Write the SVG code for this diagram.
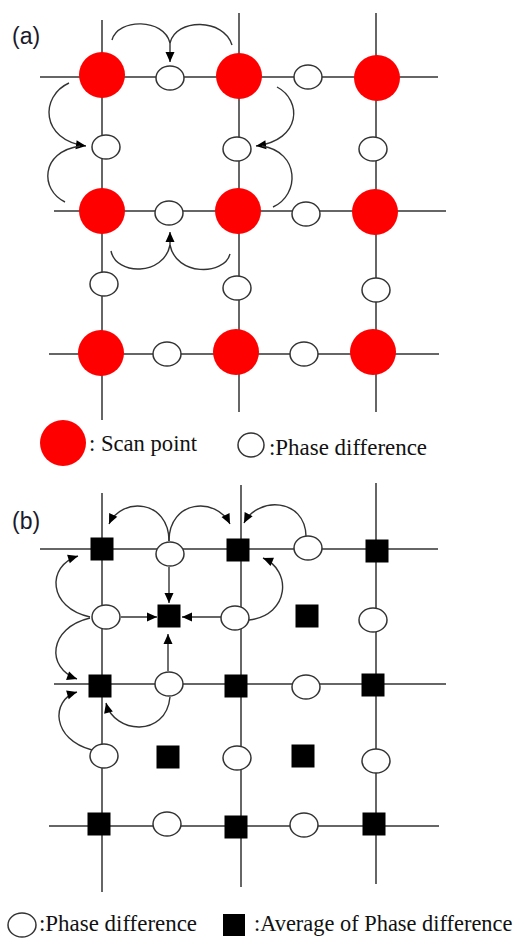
<svg xmlns="http://www.w3.org/2000/svg" width="523" height="938" viewBox="0 0 523 938">
<style>
.g{stroke:#333;stroke-width:1.5;fill:none}
.c{stroke:#333;stroke-width:1.4;fill:none}
.sp{fill:#ff0000}
.pd{fill:#fff;stroke:#333;stroke-width:1.5}
.av{fill:#000}
.lbl{font-family:"Liberation Sans",Arial,sans-serif;font-size:23px;fill:#1a1a2a}
.lg{font-family:"Liberation Serif","Times New Roman",serif;font-size:24px;fill:#111}
.lgs{font-family:"Liberation Serif","Times New Roman",serif;font-size:22.4px;fill:#111}
</style>
<defs>
<marker id="ah" viewBox="0 0 10 10" refX="10" refY="5" markerWidth="11" markerHeight="10" markerUnits="userSpaceOnUse" orient="auto">
<path d="M0,0.5 L10,5 L0,9.5 Z" fill="#000"/>
</marker>
</defs>
<rect width="523" height="938" fill="#fff"/>

<text class="lbl" x="12" y="44">(a)</text>
<g id="grid-a">
<line class="g" x1="102" y1="20" x2="102" y2="420"/>
<line class="g" x1="239" y1="13" x2="239" y2="412"/>
<line class="g" x1="376" y1="13" x2="376" y2="412"/>
<line class="g" x1="40" y1="77" x2="438" y2="77"/>
<line class="g" x1="54" y1="211" x2="446" y2="211"/>
<line class="g" x1="49" y1="354" x2="439" y2="354"/>
</g>
<g id="connectors-a">
<path class="c" d="M112,40 C118,18 164,18 170,43"/>
<path class="c" d="M232,45 C224,18 176,18 170,43"/>
<path class="c" d="M170,43 L170,62" marker-end="url(#ah)"/>
<path class="c" d="M69,83 C40,96 40,140 86,146" marker-end="url(#ah)"/>
<path class="c" d="M65,202 C40,190 40,152 80,146"/>
<path class="c" d="M277,87 C302,100 302,140 256,146" marker-end="url(#ah)"/>
<path class="c" d="M273,207 C300,195 300,152 262,146"/>
<path class="c" d="M111,251 C116,276 164,276 170,245"/>
<path class="c" d="M230,254 C224,276 176,276 170,245"/>
<path class="c" d="M170,245 L170,232" marker-end="url(#ah)"/>
</g>
<g id="scan-points">
<circle id="s11" class="sp" cx="102" cy="75" r="23"/>
<circle id="s12" class="sp" cx="239" cy="76" r="23"/>
<circle id="s13" class="sp" cx="377" cy="78" r="23"/>
<circle id="s21" class="sp" cx="102" cy="211" r="23"/>
<circle id="s22" class="sp" cx="238" cy="211" r="23"/>
<circle id="s23" class="sp" cx="375" cy="212" r="23"/>
<circle id="s31" class="sp" cx="101" cy="353" r="23"/>
<circle id="s32" class="sp" cx="236" cy="352" r="23"/>
<circle id="s33" class="sp" cx="373" cy="352" r="23"/>
</g>
<g id="phase-a">
<ellipse id="pa1" class="pd" cx="170" cy="78" rx="14" ry="12"/>
<ellipse id="pa2" class="pd" cx="308" cy="77" rx="14" ry="12"/>
<ellipse id="pa3" class="pd" cx="169" cy="213" rx="14" ry="12"/>
<ellipse id="pa4" class="pd" cx="306" cy="214" rx="14" ry="12"/>
<ellipse id="pa5" class="pd" cx="167" cy="354" rx="14" ry="12"/>
<ellipse id="pa6" class="pd" cx="304" cy="354" rx="14" ry="12"/>
<ellipse id="pa7" class="pd" cx="106" cy="147" rx="14" ry="12"/>
<ellipse id="pa8" class="pd" cx="237" cy="149" rx="14" ry="12"/>
<ellipse id="pa9" class="pd" cx="373" cy="149" rx="14" ry="12"/>
<ellipse id="pa10" class="pd" cx="104" cy="284" rx="14" ry="12"/>
<ellipse id="pa11" class="pd" cx="237" cy="288" rx="14" ry="12"/>
<ellipse id="pa12" class="pd" cx="376" cy="290" rx="14" ry="12"/>
</g>
<g id="legend-a">
<circle class="sp" cx="63" cy="443" r="23"/>
<text class="lg" x="89" y="451" textLength="108" lengthAdjust="spacingAndGlyphs">: Scan point</text>
<ellipse class="pd" cx="251" cy="445" rx="13" ry="12"/>
<text class="lg" x="269" y="455" textLength="158" lengthAdjust="spacingAndGlyphs">:Phase difference</text>
</g>

<text class="lbl" x="12" y="529">(b)</text>
<g id="grid-b">
<line class="g" x1="102" y1="493" x2="102" y2="892"/>
<line class="g" x1="241" y1="485" x2="241" y2="887"/>
<line class="g" x1="376" y1="483" x2="376" y2="884"/>
<line class="g" x1="40" y1="549" x2="438" y2="549"/>
<line class="g" x1="54" y1="684" x2="446" y2="684"/>
<line class="g" x1="49" y1="826" x2="439" y2="826"/>
</g>
<g id="connectors-b">
<path class="c" d="M169,541 C169,500 122,496 109,524" marker-end="url(#ah)"/>
<path class="c" d="M169,541 C169,500 216,496 230,524" marker-end="url(#ah)"/>
<path class="c" d="M306,536 C305,498 258,496 244,523" marker-end="url(#ah)"/>
<path class="c" d="M249,620 C290,615 292,570 263,558" marker-end="url(#ah)"/>
<path class="c" d="M90,617 C48,608 46,566 78,556" marker-end="url(#ah)"/>
<path class="c" d="M90,618 C48,628 46,668 77,679" marker-end="url(#ah)"/>
<path class="c" d="M92,750 C52,740 50,700 77,692" marker-end="url(#ah)"/>
<path class="c" d="M170,697 C166,738 114,734 106,703" marker-end="url(#ah)"/>
<path class="c" d="M169,567 L169,603" marker-end="url(#ah)"/>
<path class="c" d="M121,617 L157,617" marker-end="url(#ah)"/>
<path class="c" d="M221,617 L182,617" marker-end="url(#ah)"/>
<path class="c" d="M168,671 L168,634" marker-end="url(#ah)"/>
</g>
<g id="avg-grid">
<rect id="q11" class="av" x="90.5" y="537.5" width="23" height="23"/>
<rect id="q12" class="av" x="226.5" y="538.5" width="23" height="23"/>
<rect id="q13" class="av" x="365.5" y="539.5" width="23" height="23"/>
<rect id="q21" class="av" x="88.5" y="674.5" width="23" height="23"/>
<rect id="q22" class="av" x="224.5" y="674.5" width="23" height="23"/>
<rect id="q23" class="av" x="361.5" y="673.5" width="23" height="23"/>
<rect id="q31" class="av" x="87.5" y="812.5" width="23" height="23"/>
<rect id="q32" class="av" x="224.5" y="815.5" width="23" height="23"/>
<rect id="q33" class="av" x="362.5" y="812.5" width="23" height="23"/>
<rect id="m1" class="av" x="157.5" y="604.5" width="23" height="23"/>
<rect id="m2" class="av" x="295.5" y="604.5" width="23" height="23"/>
<rect id="m3" class="av" x="156.5" y="745.5" width="23" height="23"/>
<rect id="m4" class="av" x="291.5" y="744.5" width="23" height="23"/>
</g>
<g id="phase-b">
<ellipse id="pb1" class="pd" cx="170" cy="554" rx="14" ry="12"/>
<ellipse id="pb2" class="pd" cx="308" cy="548" rx="14" ry="12"/>
<ellipse id="pb3" class="pd" cx="169" cy="684" rx="14" ry="12"/>
<ellipse id="pb4" class="pd" cx="306" cy="687" rx="14" ry="12"/>
<ellipse id="pb5" class="pd" cx="167" cy="824" rx="14" ry="12"/>
<ellipse id="pb6" class="pd" cx="304" cy="825" rx="14" ry="12"/>
<ellipse id="pb7" class="pd" cx="106" cy="617" rx="14" ry="12"/>
<ellipse id="pb8" class="pd" cx="235" cy="618" rx="14" ry="12"/>
<ellipse id="pb9" class="pd" cx="373" cy="620" rx="14" ry="12"/>
<ellipse id="pb10" class="pd" cx="104" cy="756" rx="14" ry="12"/>
<ellipse id="pb11" class="pd" cx="237" cy="758" rx="14" ry="12"/>
<ellipse id="pb12" class="pd" cx="376" cy="761" rx="14" ry="12"/>
</g>
<g id="legend-b">
<ellipse class="pd" cx="22" cy="925" rx="14" ry="12"/>
<text class="lg" x="39" y="931" textLength="158" lengthAdjust="spacingAndGlyphs">:Phase difference</text>
<rect class="av" x="223" y="914" width="22" height="22"/>
<text class="lgs" x="254" y="931">:Average of Phase difference</text>
</g>
</svg>
